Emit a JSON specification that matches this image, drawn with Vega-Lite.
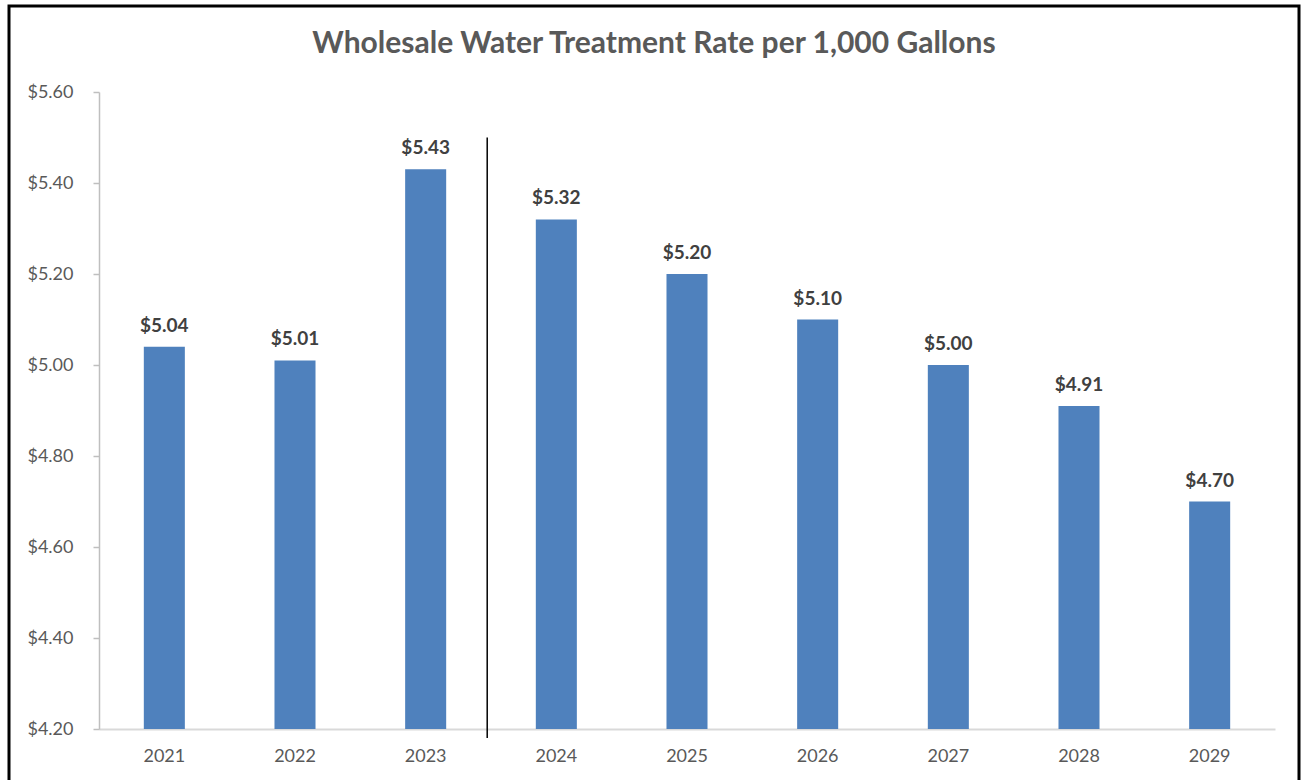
{
  "$schema": "https://vega.github.io/schema/vega-lite/v6.json",
  "width": 1290,
  "height": 777,
  "autosize": {"type": "none"},
  "padding": {"left": 9, "top": 6, "right": 3, "bottom": -3},
  "background": "white",
  "title": {
    "text": "Wholesale Water Treatment Rate per 1,000 Gallons",
    "offset": -77,
    "baseline": "alphabetic",
    "font": "Lato",
    "fontSize": 30,
    "fontWeight": "bold",
    "color": "#595959",
    "anchor": "middle",
    "frame": "group"
  },
  "config": {
    "view": {"stroke": "black", "strokeWidth": 3},
    "font": "Lato"
  },
  "data": {
    "values": [
      {"year": "2021", "rate": 5.04},
      {"year": "2022", "rate": 5.01},
      {"year": "2023", "rate": 5.43},
      {"year": "2024", "rate": 5.32},
      {"year": "2025", "rate": 5.20},
      {"year": "2026", "rate": 5.10},
      {"year": "2027", "rate": 5.00},
      {"year": "2028", "rate": 4.91},
      {"year": "2029", "rate": 4.70}
    ]
  },
  "encoding": {
    "x": {
      "field": "year",
      "type": "ordinal",
      "scale": {"range": [90, 1266], "paddingInner": 0.686, "paddingOuter": 0.343},
      "axis": {
        "title": null,
        "offset": -54,
        "labelAngle": 0,
        "ticks": false,
        "domainColor": "#D9D9D9",
        "domainWidth": 2,
        "labelPadding": 18,
        "labelFont": "Lato",
        "labelFontSize": 18,
        "labelColor": "#595959"
      }
    }
  },
  "layer": [
    {
      "mark": {"type": "bar", "color": "#4F81BD"},
      "encoding": {
        "y": {
          "field": "rate",
          "type": "quantitative",
          "scale": {"domain": [4.2, 5.6], "range": [723, 86], "nice": false, "zero": false},
          "axis": {
            "title": null,
            "offset": -90,
            "values": [4.2, 4.4, 4.6, 4.8, 5.0, 5.2, 5.4, 5.6],
            "format": "$.2f",
            "grid": false,
            "domainColor": "#BFBFBF",
            "domainWidth": 1.5,
            "tickColor": "#BFBFBF",
            "tickWidth": 1.5,
            "tickSize": 6,
            "labelPadding": 20,
            "labelFont": "Lato",
            "labelFontSize": 18,
            "labelColor": "#595959"
          }
        },
        "y2": {"datum": 4.2}
      }
    },
    {
      "mark": {"type": "text", "dy": -15, "baseline": "alphabetic", "fontWeight": "bold", "fontSize": 19, "color": "#404040", "font": "Lato"},
      "encoding": {
        "y": {"field": "rate", "type": "quantitative"},
        "text": {"field": "rate", "type": "quantitative", "format": "$.2f"}
      }
    },
    {
      "data": {"values": [{}]},
      "mark": {"type": "rule", "color": "black", "strokeWidth": 1.5},
      "encoding": {
        "x": {"datum": "2023", "type": "ordinal", "bandPosition": 2},
        "y": {"datum": 5.5, "type": "quantitative"},
        "y2": {"datum": 4.18}
      }
    }
  ]
}
